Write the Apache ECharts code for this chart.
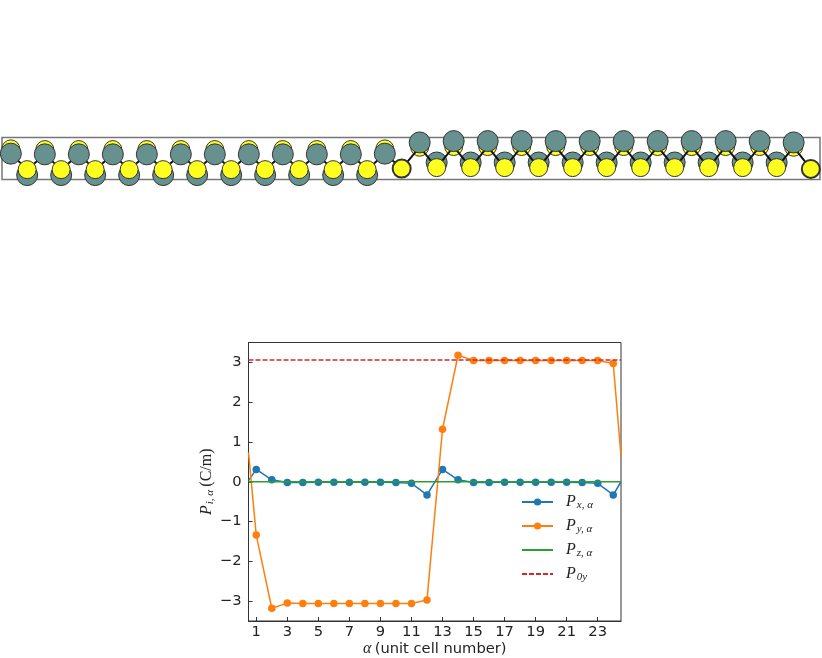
<!DOCTYPE html>
<html>
<head>
<meta charset="utf-8">
<style>
  html, body { margin: 0; padding: 0; background: #fff; }
  #chart { width: 822px; height: 658px; }
</style>
<script src="https://cdn.jsdelivr.net/npm/echarts@6/dist/echarts.min.js"></script>
</head>
<body>
<div id="chart"></div>
<script>
// polarisation per unit cell, first and last entries are where the curves leave the frame
const alpha = [0.5, 1, 2, 3, 4, 5, 6, 7, 8, 9, 10, 11, 12, 13, 14, 15, 16, 17, 18, 19, 20, 21, 22, 23, 24, 24.5];
const px = [0.03, 0.31, 0.05, -0.02, -0.02, -0.01, -0.01, -0.01, -0.01, -0.01, -0.02, -0.04, -0.33, 0.31, 0.05, -0.02, -0.02, -0.01, -0.01, -0.01, -0.01, -0.01, -0.02, -0.04, -0.33, 0];
const py = [0.74, -1.34, -3.18, -3.05, -3.06, -3.06, -3.06, -3.06, -3.06, -3.06, -3.06, -3.06, -2.97, 1.32, 3.18, 3.05, 3.05, 3.05, 3.05, 3.05, 3.05, 3.05, 3.05, 3.05, 2.97, 0.65];
const pz = [0, 0, 0, 0, 0, 0, 0, 0, 0, 0, 0, 0, 0, 0, 0, 0, 0, 0, 0, 0, 0, 0, 0, 0, 0, 0];
const p0yX = [0.5, 24.5];
const p0y = [3.06, 3.06];
const xTicks = [1, 3, 5, 7, 9, 11, 13, 15, 17, 19, 21, 23];
const yTicks = [-3, -2, -1, 0, 1, 2, 3];

// atom positions along the ribbon, in unit cells
const leftTeal = [[0.26, 0.76], [1.26, 0.74], [2.26, 0.74], [3.26, 0.74], [4.26, 0.74], [5.26, 0.74], [6.26, 0.74], [7.26, 0.74], [8.26, 0.74], [9.26, 0.74], [10.26, 0.74], [11.26, 0.76]];
const leftYellowBack = [[0.26, 0.9], [1.26, 0.88], [2.26, 0.88], [3.26, 0.88], [4.26, 0.88], [5.26, 0.88], [6.26, 0.88], [7.26, 0.88], [8.26, 0.88], [9.26, 0.88], [10.26, 0.88], [11.26, 0.9]];
const leftYellow = [[0.74, 0.29], [1.74, 0.29], [2.74, 0.29], [3.74, 0.29], [4.74, 0.29], [5.74, 0.29], [6.74, 0.29], [7.74, 0.29], [8.74, 0.29], [9.74, 0.29], [10.74, 0.29]];
const leftTealBack = [[0.74, 0.13], [1.74, 0.13], [2.74, 0.13], [3.74, 0.13], [4.74, 0.13], [5.74, 0.13], [6.74, 0.13], [7.74, 0.13], [8.74, 0.13], [9.74, 0.13], [10.74, 0.13]];
const rightTeal = [[12.285, 1.09], [13.285, 1.13], [14.285, 1.13], [15.285, 1.13], [16.285, 1.13], [17.285, 1.13], [18.285, 1.13], [19.285, 1.13], [20.285, 1.13], [21.285, 1.13], [22.285, 1.13], [23.285, 1.09]];
const rightYellowBack = [[12.285, 0.95], [13.285, 0.97], [14.285, 0.97], [15.285, 0.97], [16.285, 0.97], [17.285, 0.97], [18.285, 0.97], [19.285, 0.97], [20.285, 0.97], [21.285, 0.97], [22.285, 0.97], [23.285, 0.95]];
const rightYellow = [[12.785, 0.35], [13.785, 0.35], [14.785, 0.35], [15.785, 0.35], [16.785, 0.35], [17.785, 0.35], [18.785, 0.35], [19.785, 0.35], [20.785, 0.35], [21.785, 0.35], [22.785, 0.35]];
const rightTealBack = [[12.785, 0.5], [13.785, 0.5], [14.785, 0.5], [15.785, 0.5], [16.785, 0.5], [17.785, 0.5], [18.785, 0.5], [19.785, 0.5], [20.785, 0.5], [21.785, 0.5], [22.785, 0.5]];
const endAtoms = [[11.756, 0.32], [23.79, 0.31]];

const TEAL = '#66918f';
const YELLOW = '#ffff1f';

function zigzag(top, bottom) {
  const out = [];
  top.forEach((p, i) => {
    out.push(p);
    if (bottom[i]) out.push(bottom[i]);
  });
  return out;
}
const bond = [].concat(zigzag(leftTeal, leftYellow), [endAtoms[0]], zigzag(rightYellowBack, rightYellow), [endAtoms[1]]);

function atoms(name, data, color, size, z) {
  return {
    name: name,
    type: 'scatter',
    xAxisIndex: 1,
    yAxisIndex: 1,
    data: data,
    symbolSize: size,
    clip: false,
    z: z,
    itemStyle: { color: color, opacity: 1, borderColor: '#333', borderWidth: 1 }
  };
}

function pLine(name, ys, color, showDots, z) {
  return {
    name: name,
    type: 'line',
    // no dot where the curve is cut by the frame
    data: alpha.map((a, i) => {
      const isEdge = i === 0 || i === alpha.length - 1;
      return isEdge ? { value: [a, ys[i]], symbol: 'none' } : [a, ys[i]];
    }),
    symbol: showDots ? 'circle' : 'none',
    symbolSize: 7.5,
    lineStyle: { color: color, width: 1.5 },
    itemStyle: { color: color },
    z: z
  };
}

const subs = {
  Px: '{p|P}{s|x, α}',
  Py: '{p|P}{s|y, α}',
  Pz: '{p|P}{s|z, α}',
  P0y: '{p|P}{s|0y}'
};
const mathRich = {
  p: { fontFamily: 'Liberation Serif', fontStyle: 'italic', fontSize: 16, color: '#222' },
  s: { fontFamily: 'Liberation Serif', fontStyle: 'italic', fontSize: 11, color: '#222', padding: [7, 0, 0, 1] },
  t: { fontFamily: 'Liberation Serif', fontSize: 16, color: '#222' },
  a: { fontFamily: 'Liberation Serif', fontStyle: 'italic', fontSize: 16, color: '#222' },
  u: { fontFamily: 'DejaVu Sans', fontSize: 14.7, color: '#222' }
};

const option = {
  animation: false,
  backgroundColor: '#fff',
  grid: [
    { left: 248.5, top: 342.5, width: 372.5, height: 278.5, show: true, borderColor: '#333', borderWidth: 1, backgroundColor: 'transparent', outerBoundsMode: 'none' },
    { left: 2, top: 137.5, width: 818, height: 42, show: true, borderColor: '#777', borderWidth: 1.5, backgroundColor: 'transparent', outerBoundsMode: 'none' }
  ],
  legend: {
    data: [
      { name: 'Px' },
      { name: 'Py' },
      { name: 'Pz', itemStyle: { opacity: 0 } },
      { name: 'P0y', itemStyle: { opacity: 0 } }
    ],
    left: 516,
    top: 489,
    orient: 'vertical',
    itemWidth: 31,
    itemHeight: 9,
    itemGap: 7,
    formatter: name => subs[name],
    textStyle: { rich: mathRich, padding: [0, 0, 0, 8] }
  },
  xAxis: [
    {
      type: 'value',
      min: 0.5,
      max: 24.5,
      name: '{a|α} {u|(unit cell number)}',
      nameLocation: 'middle',
      nameGap: 20,
      nameTextStyle: { rich: mathRich },
      splitLine: { show: false },
      axisLine: { onZero: false, lineStyle: { color: '#333' } },
      axisTick: { inside: true, length: 4, customValues: xTicks, lineStyle: { color: '#333' } },
      axisLabel: { customValues: xTicks, fontFamily: 'DejaVu Sans', fontSize: 14.7, color: '#222', margin: 4 }
    },
    { type: 'value', gridIndex: 1, min: 0, max: 24.06, show: false, splitLine: { show: false } }
  ],
  yAxis: [
    {
      type: 'value',
      min: -3.5,
      max: 3.5,
      name: '{p|P}{s|i, α} {t|(C/m)}',
      nameLocation: 'middle',
      nameGap: 25,
      nameTextStyle: { rich: mathRich },
      splitLine: { show: false },
      axisLine: { onZero: false, lineStyle: { color: '#333' } },
      axisTick: { inside: true, length: 4, customValues: yTicks, lineStyle: { color: '#333' } },
      axisLabel: { customValues: yTicks, fontFamily: 'DejaVu Sans', fontSize: 14.7, color: '#222', margin: 7, formatter: v => String(v).replace('-', '−') }
    },
    { type: 'value', gridIndex: 1, min: 0, max: 1.235, show: false, splitLine: { show: false } }
  ],
  series: [
    atoms('leftYellowBack', leftYellowBack, YELLOW, 18, 2),
    atoms('leftTealBack', leftTealBack, TEAL, 21, 2),
    atoms('rightYellowBack', rightYellowBack, YELLOW, 18, 2),
    atoms('rightTealBack', rightTealBack, TEAL, 21, 2),
    {
      name: 'bond',
      type: 'line',
      xAxisIndex: 1,
      yAxisIndex: 1,
      data: bond,
      showSymbol: false,
      clip: false,
      z: 3,
      lineStyle: { color: '#111', width: 2 },
      itemStyle: { color: '#111' }
    },
    atoms('leftTeal', leftTeal, TEAL, 21, 4),
    atoms('leftYellow', leftYellow, YELLOW, 18, 4),
    atoms('rightTeal', rightTeal, TEAL, 21, 4),
    atoms('rightYellow', rightYellow, YELLOW, 18, 4),
    {
      name: 'ends',
      type: 'scatter',
      xAxisIndex: 1,
      yAxisIndex: 1,
      data: endAtoms,
      symbolSize: 18,
      clip: false,
      z: 4,
      itemStyle: { color: YELLOW, opacity: 1, borderColor: '#333', borderWidth: 2 }
    },
    pLine('Px', px, '#1f77b4', true, 5),
    pLine('Py', py, '#ff7f0e', true, 6),
    pLine('Pz', pz, '#2ca02c', false, 7),
    {
      name: 'P0y',
      type: 'line',
      data: p0yX.map((x, i) => [x, p0y[i]]),
      symbol: 'none',
      lineStyle: { color: '#d62728', width: 1.3, type: [5, 2] },
      itemStyle: { color: '#d62728' },
      z: 8
    }
  ]
};

const chart = echarts.init(document.getElementById('chart'), null, { renderer: 'canvas' });
chart.setOption(option);
</script>
</body>
</html>
